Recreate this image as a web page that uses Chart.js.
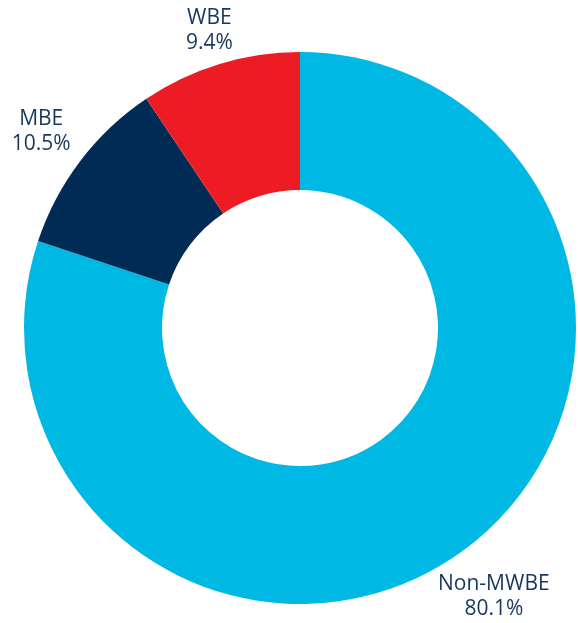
<!DOCTYPE html>
<html>
<head>
<meta charset="utf-8">
<script src="https://cdn.jsdelivr.net/npm/chart.js@4"></script>
<style>
html,body{margin:0;padding:0;background:#fff;}
#wrap{width:578px;height:623px;position:relative;}
</style>
</head>
<body>
<div id="wrap"><canvas id="c"></canvas></div>
<script>
const categories = ["Non-MWBE", "MBE", "WBE"];
const shares = [80.1, 10.5, 9.4];
const sliceColors = ["#00B8E4", "#002B54", "#ED1C24"];
const labelDistance = [1.2, 1.178, 1.128];

const outsideLabels = {
  id: 'outsideLabels',
  afterDatasetsDraw(chart) {
    const ctx = chart.ctx;
    const meta = chart.getDatasetMeta(0);
    ctx.save();
    ctx.fillStyle = '#17375E';
    ctx.font = '21px "Open Sans"';
    ctx.textAlign = 'center';
    ctx.textBaseline = 'middle';
    meta.data.forEach((arc, i) => {
      const p = arc.getProps(['x','y','startAngle','endAngle','outerRadius'], true);
      const mid = (p.startAngle + p.endAngle) / 2;
      const r = p.outerRadius * labelDistance[i];
      const x = p.x + Math.cos(mid) * r;
      const y = p.y + Math.sin(mid) * r;
      ctx.fillText(categories[i], x, y - 12.5);
      ctx.fillText(shares[i].toFixed(1) + '%', x, y + 12.5);
    });
    ctx.restore();
  }
};

new Chart(document.getElementById('c'), {
  type: 'doughnut',
  data: {
    labels: categories,
    datasets: [{
      data: shares,
      backgroundColor: sliceColors,
      borderWidth: 0
    }]
  },
  options: {
    responsive: true,
    maintainAspectRatio: false,
    animation: false,
    cutout: '50%',
    layout: { padding: { left: 24, right: 2, top: 52, bottom: 19 } },
    plugins: {
      legend: { display: false },
      tooltip: { enabled: false }
    }
  },
  plugins: [outsideLabels]
});
</script>
</body>
</html>
